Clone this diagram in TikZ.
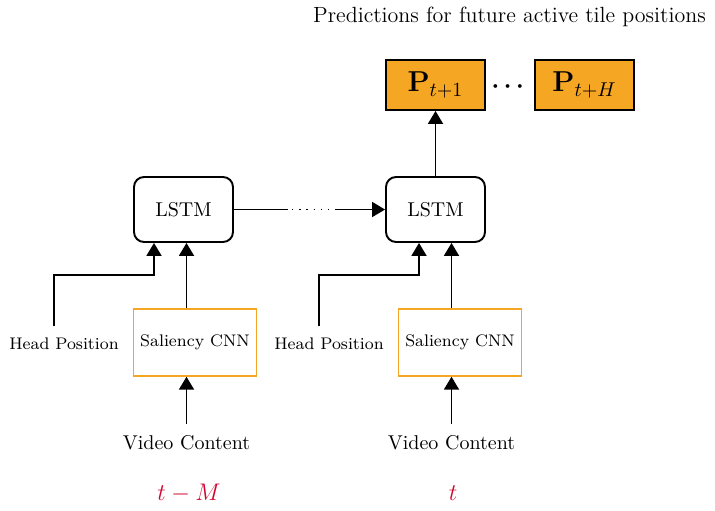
\documentclass[tikz,border=0pt]{standalone}
\usepackage{amsmath}
\usepackage{tikz}
\usetikzlibrary{arrows.meta}
\definecolor{predorange}{RGB}{245,166,35}
\definecolor{timered}{RGB}{208,6,48}

\begin{document}
\begin{tikzpicture}[x=0.5pt,y=0.5pt,line width=0.95pt,
		arr/.style={-{Triangle[width=7.5pt,length=6.5pt]}},
		lstmbox/.style={draw,rounded corners=5pt,minimum width=49.5pt,minimum height=32.5pt},
		cnnbox/.style={draw=predorange,line width=0.7pt,minimum width=58pt,minimum height=33.5pt,font=\fontsize{8.4}{10}\selectfont},
		predbox/.style={draw,fill=predorange,minimum width=49.5pt,minimum height=25pt,font=\fontsize{13.8}{16}\selectfont},
		inlabel/.style={inner sep=5.5pt}
	]
		\useasboundingbox (0,0) rectangle (715,510);
		
		\node [font=\fontsize{11}{13}\selectfont] (title) at (509.5,493) {Predictions for future active tile positions};
		\node [predbox] (p1) at (435.5,425) {$\mathbf{P}_{t+1}$};
		\node [predbox] (pH) at (584.5,425) {$\mathbf{P}_{t+H}$};
		\node [font=\large\boldmath] (pdots) at (510,423) {$\cdots$};
		
		\node [lstmbox] (lstm1) at (183.5,300.5) {LSTM};
		\node [lstmbox] (lstm2) at (435.5,300.5) {LSTM};
		
		\node [cnnbox] (cnn1) at (195,167.5) {Saliency CNN};
		\node [cnnbox] (cnn2) at (460,167.5) {Saliency CNN};
		
		\node [inlabel,font=\fontsize{8.4}{10}\selectfont] (head1) at (64,166) {Head Position};
		\node [inlabel,font=\fontsize{8.4}{10}\selectfont] (head2) at (329,166) {Head Position};
		
		\node [inlabel] (video1) at (186.5,67) {Video Content};
		\node [inlabel] (video2) at (451.5,67) {Video Content};
		
		\node [text=timered,font=\fontsize{12.5}{15}\selectfont] (tM) at (189,17) {$t-M$};
		\node [text=timered,font=\fontsize{12.5}{15}\selectfont] (tnow) at (453,17) {$t$};
		
		\coordinate (j1) at (154,235);
		\coordinate (j2) at (419,235);
		\coordinate (d1) at (288,300.5);
		\coordinate (d2) at (337,300.5);
		
		\draw [arr] (video1) -- (video1 |- cnn1.south);
		\draw [arr] (video2) -- (video2 |- cnn2.south);
		\draw [arr] (cnn1.north -| video1) -- (lstm1.south -| video1);
		\draw [arr] (cnn2.north -| video2) -- (lstm2.south -| video2);
		
		\draw [arr] ([xshift=-5pt]head1.north) |- (j1) -- (j1 |- lstm1.south);
		\draw [arr] ([xshift=-5pt]head2.north) |- (j2) -- (j2 |- lstm2.south);
		
		\draw (lstm1.east) -- (d1);
		\draw [semithick,dash pattern=on 0.7pt off 2.9pt] ([xshift=2pt]d1) -- (d2);
		\draw [arr] (d2) -- (lstm2.west);
		
		\draw [arr] (lstm2.north) -- (p1.south);
\end{tikzpicture}
\end{document}
